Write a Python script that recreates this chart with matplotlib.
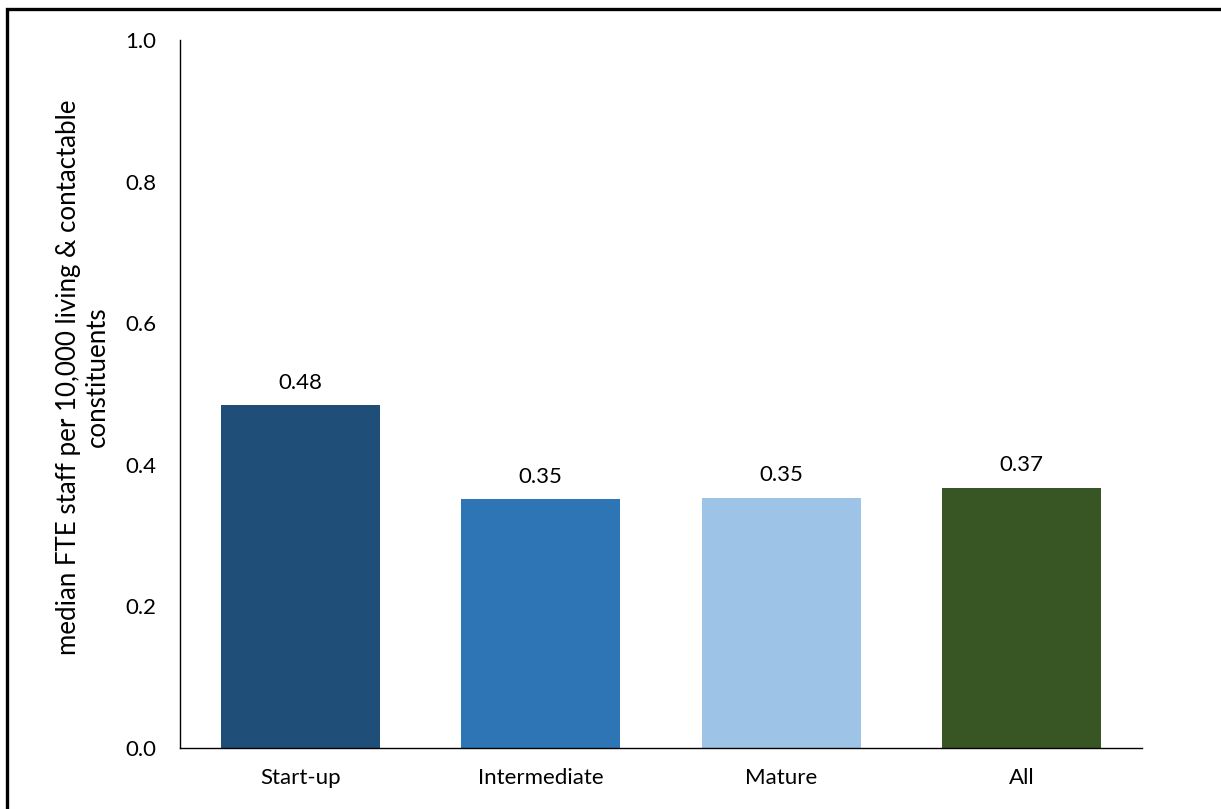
import matplotlib
matplotlib.use("Agg")
import matplotlib.pyplot as plt
from matplotlib.lines import Line2D

categories = ["Start-up", "Intermediate", "Mature", "All"]
values = [0.484, 0.351, 0.353, 0.367]
labels = ["0.48", "0.35", "0.35", "0.37"]
colors = ["#1F4E79", "#2E75B6", "#9DC3E6", "#375623"]
yticks = [0.0, 0.2, 0.4, 0.6, 0.8, 1.0]

plt.rcParams['font.family'] = ['Lato', 'DejaVu Sans']

W, H = 1221, 809
fig = plt.figure(figsize=(W/100, H/100), dpi=100)
ax = fig.add_axes([180/W, 1-747.5/H, (1142-180)/W, (747.5-40)/H])

x = range(len(categories))
bars = ax.bar(x, values, width=0.66, color=colors)
for b, lab in zip(bars, labels):
    ax.annotate(lab, (b.get_x()+b.get_width()/2, b.get_height()),
                xytext=(0, 9), textcoords="offset points",
                ha="center", va="bottom", fontsize=16, color="#000000")

ax.set_xlim(-0.5, 3.5)
ax.set_ylim(0, 1.0)
ax.set_xticks(list(x))
ax.set_xticklabels(categories, fontsize=16)
ax.set_yticks(yticks)
ax.set_yticklabels([f"{v:.1f}" for v in yticks], fontsize=16)
ax.tick_params(axis="both", length=0)
ax.tick_params(axis="y", pad=17)
ax.tick_params(axis="x", pad=15)
for s in ["top", "right"]:
    ax.spines[s].set_visible(False)
ax.spines["left"].set_linewidth(1.0)
ax.spines["bottom"].set_linewidth(1.0)

ax.set_ylabel("median FTE staff per 10,000 living & contactable\nconstituents", fontsize=18.6,
              linespacing=1.2)
ax.yaxis.set_label_coords(-0.0728, 0.524)

# figure frame (top and left)
fx = 7/W
fy = 1 - 9/H
fig.add_artist(Line2D([fx, fx, 1], [0, fy, fy], transform=fig.transFigure,
                      color="black", linewidth=2.4, solid_joinstyle="miter"))

fig.savefig("out.png", dpi=100)
